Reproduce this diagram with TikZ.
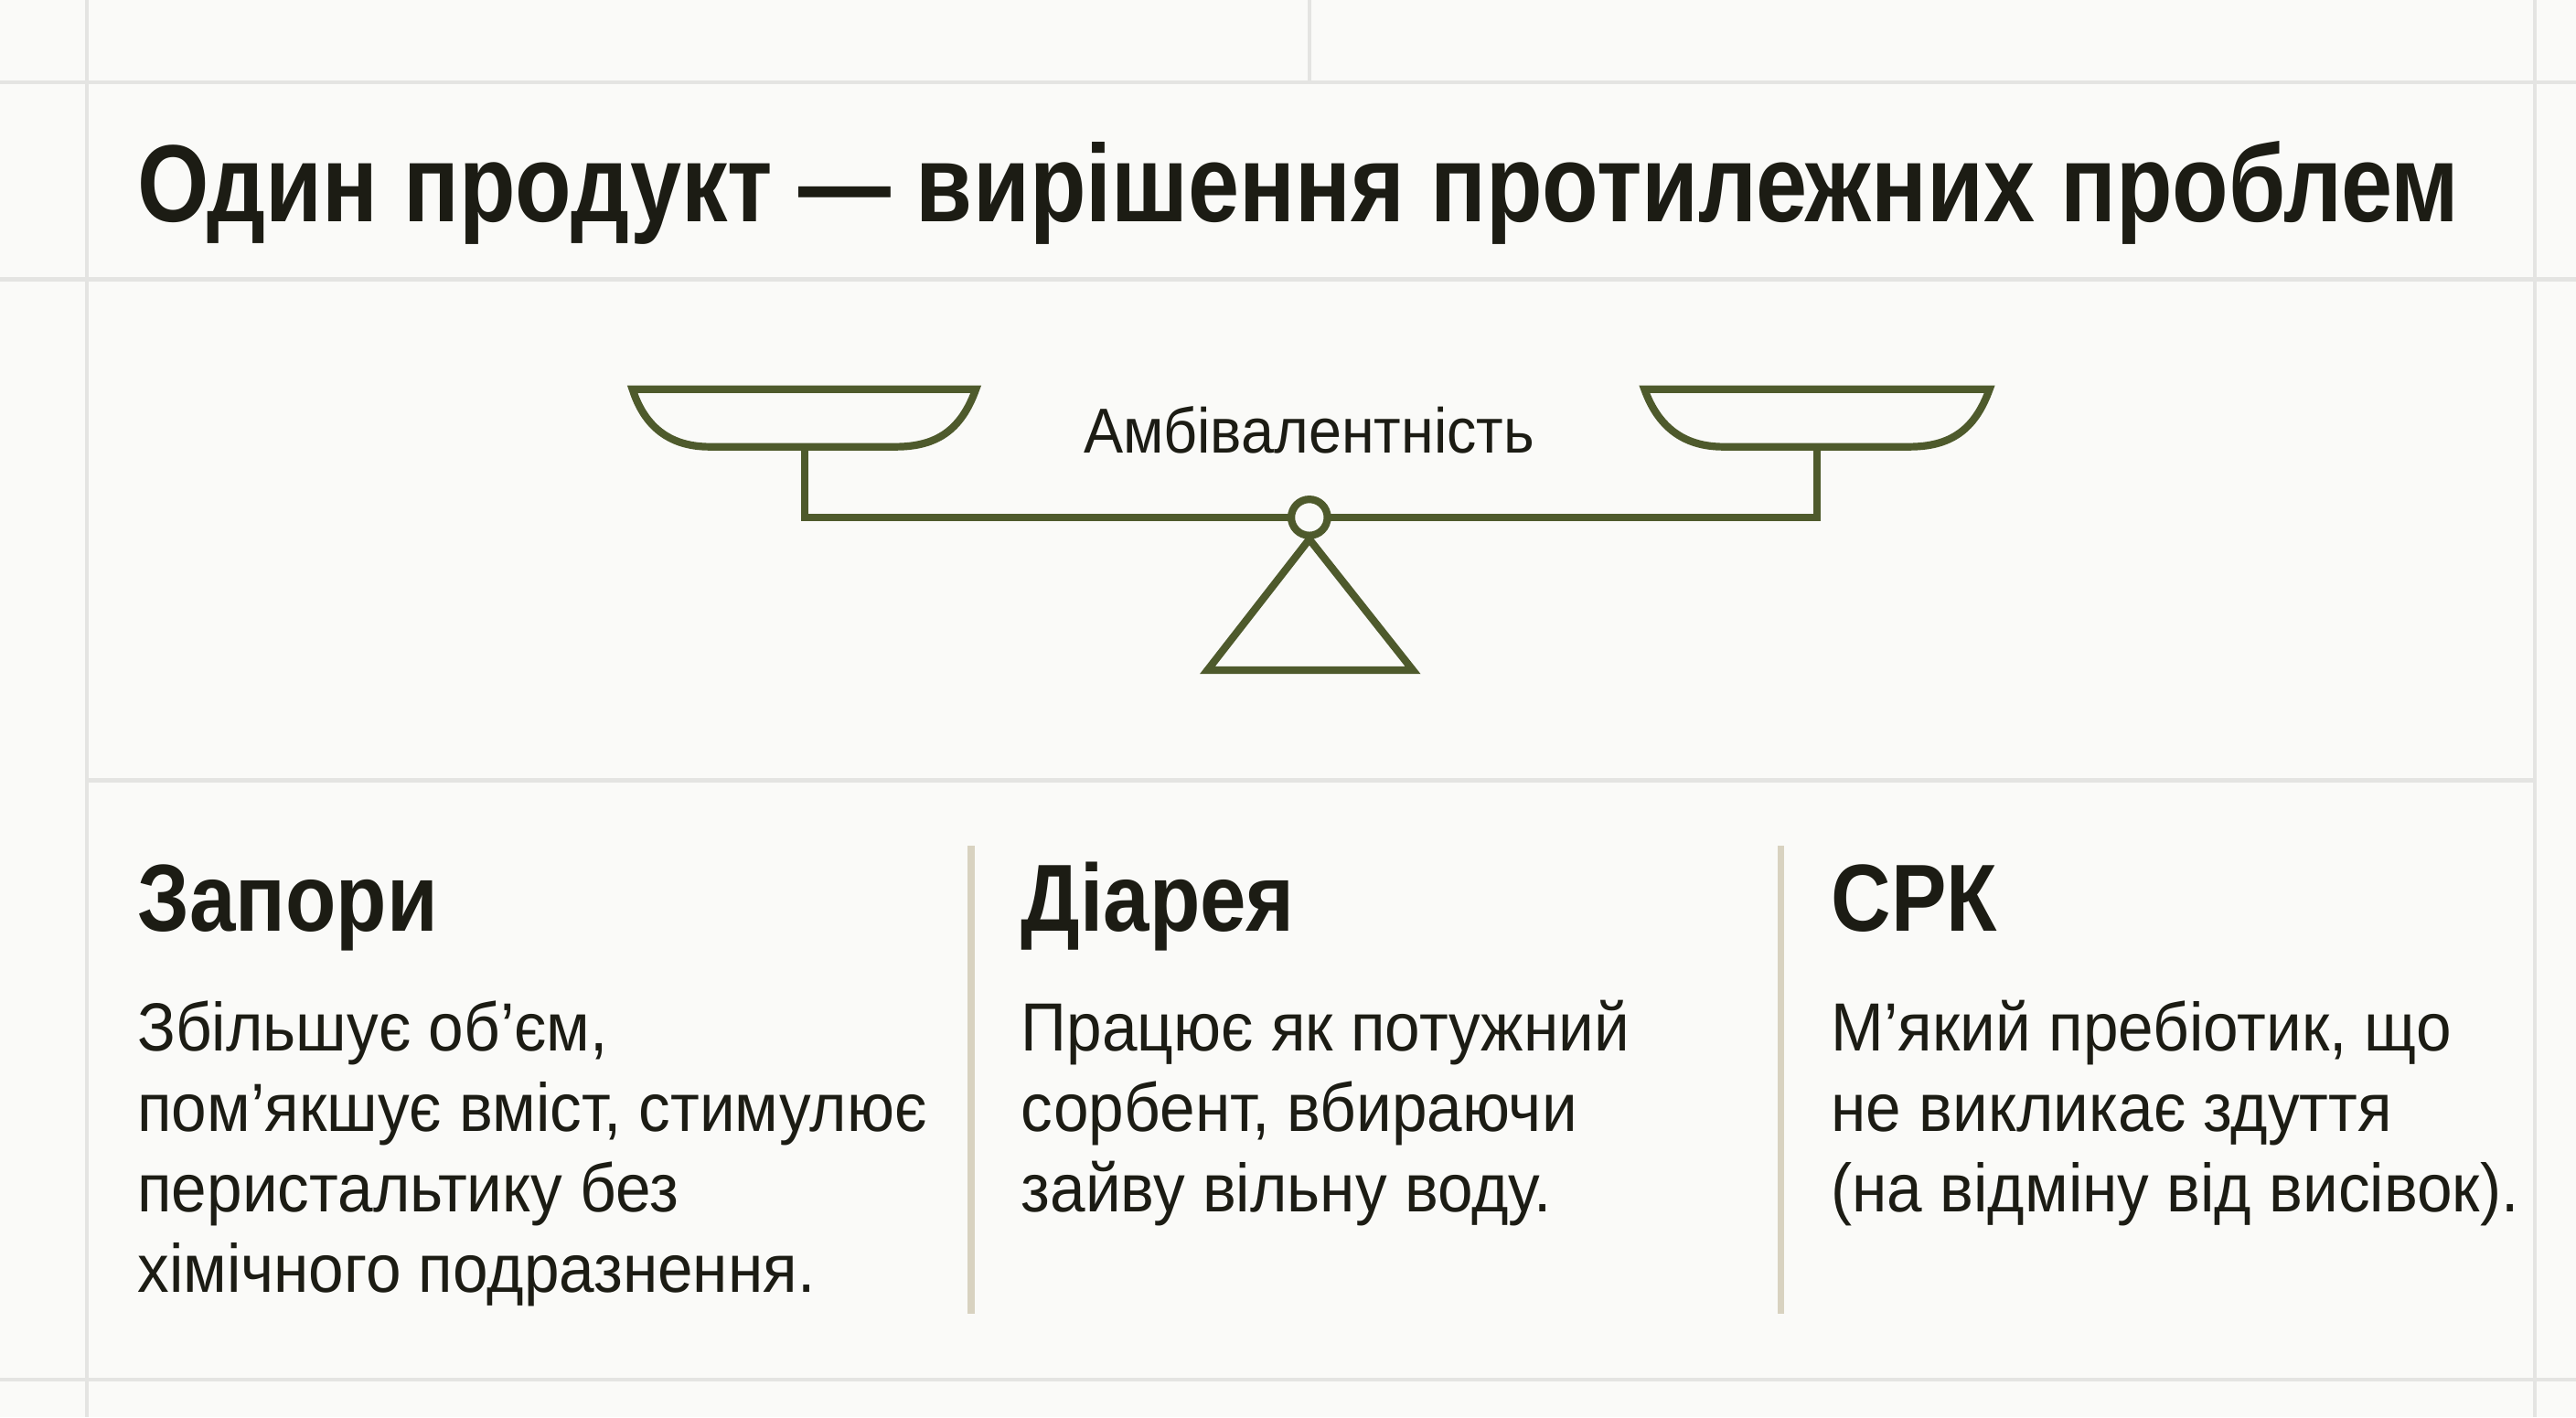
\documentclass[tikz,border=0pt]{standalone}
\usepackage{fontspec}
\setmainfont[FakeStretch=0.84]{Liberation Sans}
\newfontfamily\bodyf[FakeStretch=0.93]{Liberation Sans}
\newfontfamily\headf[FakeStretch=0.87]{Liberation Sans}
\definecolor{ink}{HTML}{1C1C14}
\definecolor{olive}{HTML}{4E5A2C}
\definecolor{gridc}{HTML}{E4E4E2}
\definecolor{divc}{HTML}{D8D2C0}
\definecolor{bg}{HTML}{FAFAF8}
\begin{document}
\begin{tikzpicture}[x=0.01cm,y=-0.01cm,
  gl/.style={draw=gridc,line width=0.7pt},
  sc/.style={draw=olive,line width=1.3pt,line join=miter},
  ttl/.style={anchor=base west,inner sep=0,text=ink,font=\bfseries\fontsize{19}{22}\selectfont},
  hd/.style={anchor=base west,inner sep=0,text=ink,font=\headf\bfseries\fontsize{16.5}{20}\selectfont},
  bd/.style={anchor=base west,inner sep=0,text=ink,font=\bodyf\fontsize{11.8}{14}\selectfont}]
\fill[bg] (0,0) rectangle (1568,863);
\useasboundingbox (0,0) rectangle (1568,863);
\draw[gl] (53,0)--(53,863) (1543,0)--(1543,863) (797,0)--(797,50);
\draw[gl] (0,50)--(1568,50) (0,170)--(1568,170) (53,475)--(1543,475) (0,840)--(1568,840);
\node[ttl] (title) at (83,135) {Один продукт — вирішення протилежних проблем};
% scale
\draw[sc] (385,237)--(594,237) .. controls (585,262) and (570,272) .. (545,272) -- (432,272) .. controls (410,272) and (393,262) .. (385,237) -- cycle;
\draw[sc] (1001,237)--(1211,237) .. controls (1202,262) and (1187,272) .. (1162,272) -- (1049,272) .. controls (1027,272) and (1010,262) .. (1001,237) -- cycle;
\draw[sc] (490,272)--(490,315)--(786,315);
\draw[sc] (808,315)--(1106,315)--(1106,272);
\node[sc,circle,minimum size=0.22cm,inner sep=0,fill=bg] (pivot) at (797,315) {};
\draw[sc] (pivot.south)--(860,408)--(735,408)--cycle;
\node[anchor=center,inner sep=0,text=ink,font=\bodyf\fontsize{11}{12}\selectfont] (amb) at (797,262) {Амбівалентність};
% columns
\draw[draw=divc,line width=1.2pt] (591,515)--(591,800) (1084,515)--(1084,800);
\node[hd] (h1) at (83,567) {Запори};
\node[hd] (h2) at (621,567) {Діарея};
\node[hd] (h3) at (1114,567) {СРК};
\node[bd] (a1) at (83,640) {Збільшує об’єм,};
\node[bd] (a2) at (83,689) {пом’якшує вміст, стимулює};
\node[bd] (a3) at (83,738) {перистальтику без};
\node[bd] (a4) at (83,787) {хімічного подразнення.};
\node[bd] (b1) at (621,640) {Працює як потужний};
\node[bd] (b2) at (621,689) {сорбент, вбираючи};
\node[bd] (b3) at (621,738) {зайву вільну воду.};
\node[bd] (c1) at (1114,640) {М’який пребіотик, що};
\node[bd] (c2) at (1114,689) {не викликає здуття};
\node[bd] (c3) at (1114,738) {(на відміну від висівок).};
\end{tikzpicture}
\end{document}
